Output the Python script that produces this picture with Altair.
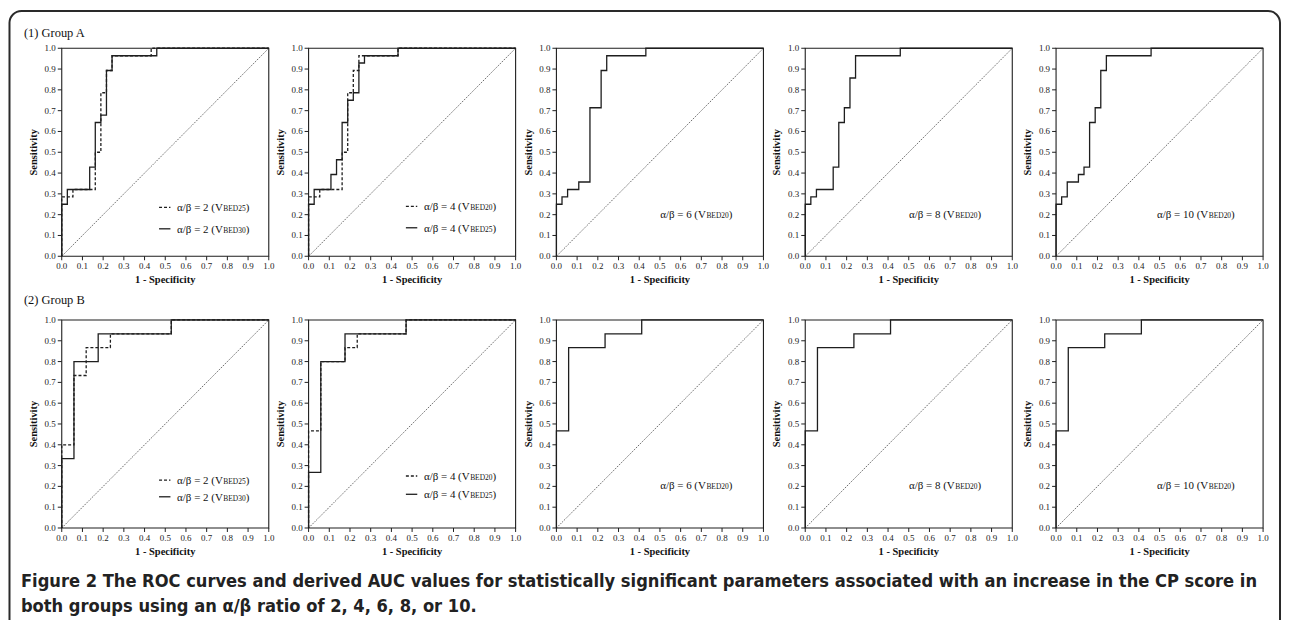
import altair as alt
import pandas as pd

# ---------------- values ----------------
TICKS = [0.0, 0.1, 0.2, 0.3, 0.4, 0.5, 0.6, 0.7, 0.8, 0.9, 1.0]
DIAG_X = [0.0, 1.0]
DIAG_Y = [0.0, 1.0]

# Group A  (ROC operating points: 1 - specificity, sensitivity)
A_R2_BED25_FPR = [0.0, 0.0, 0.054, 0.162, 0.189, 0.216, 0.243, 0.432, 1.0]
A_R2_BED25_TPR = [0.0, 0.286, 0.321, 0.500, 0.786, 0.893, 0.964, 1.0, 1.0]
A_R2_BED30_FPR = [0.0, 0.0, 0.027, 0.135, 0.162, 0.189, 0.216, 0.243, 0.459, 1.0]
A_R2_BED30_TPR = [0.0, 0.250, 0.321, 0.429, 0.643, 0.679, 0.893, 0.964, 1.0, 1.0]
A_R4_BED20_FPR = [0.0, 0.0, 0.054, 0.162, 0.189, 0.216, 0.243, 0.432, 1.0]
A_R4_BED20_TPR = [0.0, 0.286, 0.321, 0.500, 0.786, 0.893, 0.964, 1.0, 1.0]
A_R4_BED25_FPR = [0.0, 0.0, 0.027, 0.108, 0.135, 0.162, 0.189, 0.216, 0.243, 0.270, 0.432, 1.0]
A_R4_BED25_TPR = [0.0, 0.250, 0.321, 0.393, 0.464, 0.643, 0.750, 0.786, 0.929, 0.964, 1.0, 1.0]
A_R6_BED20_FPR = [0.0, 0.0, 0.027, 0.054, 0.108, 0.162, 0.216, 0.243, 0.432, 1.0]
A_R6_BED20_TPR = [0.0, 0.250, 0.286, 0.321, 0.357, 0.714, 0.893, 0.964, 1.0, 1.0]
A_R8_BED20_FPR = [0.0, 0.0, 0.027, 0.054, 0.135, 0.162, 0.189, 0.216, 0.243, 0.459, 1.0]
A_R8_BED20_TPR = [0.0, 0.250, 0.286, 0.321, 0.429, 0.643, 0.714, 0.857, 0.964, 1.0, 1.0]
A_R10_BED20_FPR = [0.0, 0.0, 0.027, 0.054, 0.108, 0.135, 0.162, 0.189, 0.216, 0.243, 0.459, 1.0]
A_R10_BED20_TPR = [0.0, 0.250, 0.286, 0.357, 0.393, 0.429, 0.643, 0.714, 0.893, 0.964, 1.0, 1.0]

# Group B
B_R2_BED25_FPR = [0.0, 0.0, 0.059, 0.118, 0.235, 0.529, 1.0]
B_R2_BED25_TPR = [0.0, 0.400, 0.733, 0.867, 0.933, 1.0, 1.0]
B_R2_BED30_FPR = [0.0, 0.0, 0.059, 0.176, 0.529, 1.0]
B_R2_BED30_TPR = [0.0, 0.333, 0.800, 0.933, 1.0, 1.0]
B_R4_BED20_FPR = [0.0, 0.0, 0.059, 0.176, 0.235, 0.471, 1.0]
B_R4_BED20_TPR = [0.0, 0.467, 0.800, 0.867, 0.933, 1.0, 1.0]
B_R4_BED25_FPR = [0.0, 0.0, 0.059, 0.176, 0.471, 1.0]
B_R4_BED25_TPR = [0.0, 0.267, 0.800, 0.933, 1.0, 1.0]
B_R6_BED20_FPR = [0.0, 0.0, 0.059, 0.235, 0.412, 1.0]
B_R6_BED20_TPR = [0.0, 0.467, 0.867, 0.933, 1.0, 1.0]
B_R8_BED20_FPR = [0.0, 0.0, 0.059, 0.235, 0.412, 1.0]
B_R8_BED20_TPR = [0.0, 0.467, 0.867, 0.933, 1.0, 1.0]
B_R10_BED20_FPR = [0.0, 0.0, 0.059, 0.235, 0.412, 1.0]
B_R10_BED20_TPR = [0.0, 0.467, 0.867, 0.933, 1.0, 1.0]

GROUP_TITLES = ["(1) Group A", "(2) Group B"]
RATIO_LABELS = ["α/β = 2 (V", "α/β = 4 (V", "α/β = 6 (V", "α/β = 8 (V", "α/β = 10 (V"]
X_TITLE = "1 - Specificity"
Y_TITLE = "Sensitivity"
CAPTION_LINES = [
    "Figure 2 The ROC curves and derived AUC values for statistically significant parameters associated with an increase in the CP score in",
    "both groups using an α/β ratio of 2, 4, 6, 8, or 10.",
]

# curves per panel: (fpr, tpr, subscript label, dashed?)
PANELS = [
    [  # Group A
        [(A_R2_BED25_FPR, A_R2_BED25_TPR, "BED25", True), (A_R2_BED30_FPR, A_R2_BED30_TPR, "BED30", False)],
        [(A_R4_BED20_FPR, A_R4_BED20_TPR, "BED20", True), (A_R4_BED25_FPR, A_R4_BED25_TPR, "BED25", False)],
        [(A_R6_BED20_FPR, A_R6_BED20_TPR, "BED20", False)],
        [(A_R8_BED20_FPR, A_R8_BED20_TPR, "BED20", False)],
        [(A_R10_BED20_FPR, A_R10_BED20_TPR, "BED20", False)],
    ],
    [  # Group B
        [(B_R2_BED25_FPR, B_R2_BED25_TPR, "BED25", True), (B_R2_BED30_FPR, B_R2_BED30_TPR, "BED30", False)],
        [(B_R4_BED20_FPR, B_R4_BED20_TPR, "BED20", True), (B_R4_BED25_FPR, B_R4_BED25_TPR, "BED25", False)],
        [(B_R6_BED20_FPR, B_R6_BED20_TPR, "BED20", False)],
        [(B_R8_BED20_FPR, B_R8_BED20_TPR, "BED20", False)],
        [(B_R10_BED20_FPR, B_R10_BED20_TPR, "BED20", False)],
    ],
]

# ---------------- layout & style ----------------
W, H = 1280, 612
PANEL_X0 = [54, 302, 551, 801, 1053]
ROW_Y0 = [39, 312]
PW, PH = 208, 209
SERIF = "Liberation Serif, Times New Roman, serif"
NARROW = "Liberation Sans Narrow, Arial Narrow, DejaVu Sans Condensed, Liberation Sans, sans-serif"
INK = "#1e1e1e"

# legend placement inside panels (data units)
LEG2_ROWS = {(0, 0): (0.235, 0.132), (0, 1): (0.24, 0.137), (1, 0): (0.23, 0.15), (1, 1): (0.25, 0.162)}
LEG2_SAMPLE = (0.47, 0.525)
LEG2_ANCHOR = 0.778
LEG1_ANCHOR = [None, None, 0.722, 0.722, 0.735]
LEG1_Y = 0.205

ONE = pd.DataFrame({"k": [0]})
TICK_DF = pd.DataFrame({"v": TICKS})


def legend_text(main, sub, ax, ay):
    d = pd.DataFrame({"main": [main], "sub": [sub], "close": [")"]})
    base = alt.Chart(d)
    t1 = base.mark_text(align="right", baseline="alphabetic", font=SERIF, fontSize=11, color="#111", dy=4).encode(
        x=alt.datum(ax), y=alt.datum(ay), text="main:N")
    t2 = base.mark_text(align="left", baseline="alphabetic", font=SERIF, fontSize=7.5, color="#111", dy=4, dx=0.5).encode(
        x=alt.datum(ax), y=alt.datum(ay), text="sub:N")
    t3 = base.mark_text(align="left", baseline="alphabetic", font=SERIF, fontSize=11, color="#111", dy=4, dx=23).encode(
        x=alt.datum(ax), y=alt.datum(ay), text="close:N")
    return [t1, t2, t3]


def panel(row, col):
    curves = PANELS[row][col]
    x0 = PANEL_X0[col]
    y0 = ROW_Y0[row]
    yb = y0 + PH
    xs = alt.Scale(domain=[0, 1], range=[x0, x0 + PW], nice=False, zero=False)
    ys = alt.Scale(domain=[0, 1], range=[yb, y0], nice=False, zero=False)

    diag = alt.Chart(pd.DataFrame({"fpr": DIAG_X, "tpr": DIAG_Y})).mark_line(
        color="#444", strokeWidth=0.8, strokeDash=[1.5, 1.2]).encode(
        x=alt.X("fpr:Q", scale=xs, axis=None), y=alt.Y("tpr:Q", scale=ys, axis=None))
    layers = [diag]

    # axis ticks, tick labels and titles drawn through the panel scales
    tick_base = alt.Chart(TICK_DF)
    layers.append(tick_base.mark_rule(color=INK, strokeWidth=1).encode(
        x=alt.value(x0 - 4), x2=alt.value(x0), y=alt.Y("v:Q", axis=None)))
    layers.append(tick_base.mark_text(align="right", baseline="middle", font=SERIF, fontSize=9, color="#222").encode(
        x=alt.value(x0 - 6), y=alt.Y("v:Q", axis=None), text=alt.Text("v:Q", format=".1f")))
    layers.append(tick_base.mark_rule(color=INK, strokeWidth=1).encode(
        x=alt.X("v:Q", axis=None), y=alt.value(yb), y2=alt.value(yb + 4)))
    layers.append(tick_base.mark_text(align="center", baseline="top", font=SERIF, fontSize=9, color="#222").encode(
        x=alt.X("v:Q", axis=None), y=alt.value(yb + 6), text=alt.Text("v:Q", format=".1f")))
    titles = pd.DataFrame({"xt": [X_TITLE], "yt": [Y_TITLE]})
    layers.append(alt.Chart(titles).mark_text(align="center", baseline="middle", font=SERIF, fontSize=10.5,
                                              fontWeight="bold", color="#111").encode(
        x=alt.value(x0 + PW / 2), y=alt.value(yb + 24), text="xt:N"))
    layers.append(alt.Chart(titles).mark_text(align="center", baseline="middle", font=SERIF, fontSize=10.5,
                                              fontWeight="bold", color="#111", angle=270).encode(
        x=alt.value(x0 - 28), y=alt.value(y0 + PH / 2), text="yt:N"))

    ordered = sorted(curves, key=lambda c: 0 if c[3] else 1)
    for fpr, tpr, sub, dashed in ordered:
        df = pd.DataFrame({"fpr": fpr, "tpr": tpr, "i": list(range(len(fpr)))})
        mk = dict(interpolate="step-after", color=INK, strokeWidth=1.3)
        if dashed:
            mk["strokeDash"] = [3, 2]
        layers.append(alt.Chart(df).mark_line(**mk).encode(
            x=alt.X("fpr:Q", axis=None), y=alt.Y("tpr:Q", axis=None), order="i:Q"))

    # in-plot legend
    main = RATIO_LABELS[col]
    if len(curves) == 2:
        rows = LEG2_ROWS[(row, col)]
        for (fpr, tpr, sub, dashed), ry in zip(curves, rows):
            mk = dict(color=INK, strokeWidth=1.3)
            if dashed:
                mk["strokeDash"] = [3, 2]
            layers.append(alt.Chart(ONE).mark_rule(**mk).encode(
                x=alt.datum(LEG2_SAMPLE[0]), x2=alt.datum(LEG2_SAMPLE[1]), y=alt.datum(ry)))
            layers += legend_text(main, sub, LEG2_ANCHOR, ry)
    else:
        layers += legend_text(main, curves[0][2], LEG1_ANCHOR[col], LEG1_Y)

    frame = alt.Chart(ONE).mark_rect(fill="transparent", stroke=INK, strokeWidth=1.1).encode(
        x=alt.datum(0), x2=alt.datum(1), y=alt.datum(0), y2=alt.datum(1))
    layers.append(frame)
    return alt.layer(*layers)


panels = [panel(r, c) for r in range(2) for c in range(5)]

border = alt.Chart(ONE).mark_rect(fill="transparent", stroke="#2a2a2a", strokeWidth=2, cornerRadius=12).encode(
    x=alt.value(1.5), x2=alt.value(1278), y=alt.value(1.5), y2=alt.value(700))

group_a = alt.Chart(pd.DataFrame({"t": [GROUP_TITLES[0]]})).mark_text(
    align="left", baseline="middle", font=SERIF, fontSize=12.5, color="#111").encode(
    x=alt.value(16), y=alt.value(24), text="t:N")
group_b = alt.Chart(pd.DataFrame({"t": [GROUP_TITLES[1]]})).mark_text(
    align="left", baseline="middle", font=SERIF, fontSize=12.5, color="#111").encode(
    x=alt.value(16), y=alt.value(292), text="t:N")
cap1 = alt.Chart(pd.DataFrame({"t": [CAPTION_LINES[0]]})).mark_text(
    align="left", baseline="middle", font=NARROW, fontSize=18.2, fontWeight="bold", color="#222").encode(
    x=alt.value(13), y=alt.value(575), text="t:N")
cap2 = alt.Chart(pd.DataFrame({"t": [CAPTION_LINES[1]]})).mark_text(
    align="left", baseline="middle", font=NARROW, fontSize=18.2, fontWeight="bold", color="#222").encode(
    x=alt.value(13), y=alt.value(600), text="t:N")

chart = alt.layer(border, group_a, group_b, cap1, cap2, *panels).resolve_scale(
    x="independent", y="independent").properties(
    width=W, height=H, padding=0, autosize=alt.AutoSizeParams(type="none"), background="white"
).configure_view(stroke="transparent")

chart.save("out.html", embed_options={"renderer": "svg", "actions": False})
